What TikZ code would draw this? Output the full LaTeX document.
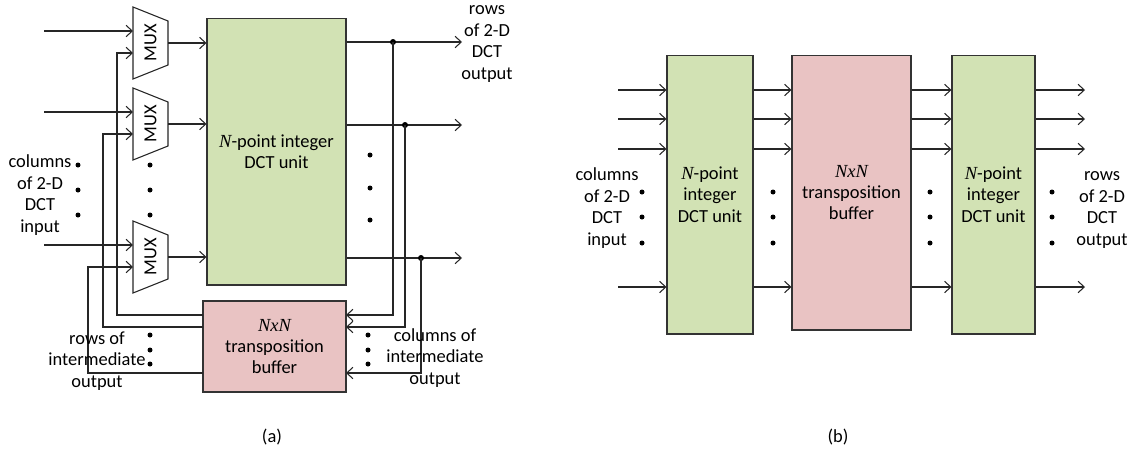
\documentclass[tikz,border=0pt]{standalone}
\usepackage{fontspec}
\setmainfont{Carlito}
\newfontfamily\serifN{Liberation Serif}
\usetikzlibrary{arrows.meta}
\newcommand{\NN}{{\serifN\itshape N}}
\newcommand{\NxN}{{\serifN\itshape NxN}}
\definecolor{dctgreen}{RGB}{210,226,180}
\definecolor{bufpink}{RGB}{233,195,195}
\begin{document}
\begin{tikzpicture}[x=0.02cm,y=-0.02cm,
  every node/.style={font=\fontsize{10.5}{12.2}\selectfont},
  wire/.style={line width=0.6pt, draw=black!85},
  arr/.style={wire,-{Straight Barb[length=3.5pt,width=6.5pt]}},
  dctbox/.style={draw=black!80, line width=0.6pt, fill=dctgreen, inner sep=0pt, align=center},
  bufbox/.style={draw=black!80, line width=0.6pt, fill=bufpink, inner sep=0pt, align=center},
  muxshape/.style={line width=0.6pt, draw=black!85, fill=white},
  lbl/.style={align=center, inner sep=0pt},
  dotr/.style={fill=black}]
\useasboundingbox (0,0) rectangle (1145,460);

% ---------------- (a) ----------------
\node[dctbox, minimum width=2.78cm, minimum height=5.34cm] (dcta) at (276.5,151.5) {\NN-point integer\\DCT unit};
\node[bufbox, minimum width=2.86cm, minimum height=1.82cm] (tbufa) at (274.5,346.5) {\NxN\\transposition\\buffer};

\foreach \c/\n in {43/1,124/2,257/3} {
  \draw[muxshape] (133,\c-36) -- (168,\c-22) -- (168,\c+22) -- (133,\c+36) -- cycle;
  \node[rotate=90, inner sep=0pt] (mux\n) at (150.5,\c) {MUX};
  \coordinate (mux\n inA) at (133,\c-12);
  \coordinate (mux\n inB) at (133,\c+10);
  \coordinate (mux\n out) at (168,\c);
  \coordinate (src\n) at (44,\c-12);
  \draw[arr] (src\n) -- (mux\n inA);
  \draw[arr] (mux\n out) -- (mux\n out -| dcta.west);
}

% outputs of DCT unit with junctions
\coordinate (ja1) at (393,42);
\coordinate (ja2) at (405,125);
\coordinate (ja3) at (421,258);
\coordinate (ea1) at (462,42);
\coordinate (ea2) at (462,125);
\coordinate (ea3) at (462,258);
\foreach \i in {1,2,3} {
  \draw[arr] (dcta.east |- ja\i) -- (ea\i);
  \fill[dotr] (ja\i) circle[radius=3];
}
% feedback into transposition buffer
\coordinate (tin1) at (346,315);
\coordinate (tin2) at (346,327);
\coordinate (tin3) at (346,373);
\foreach \i in {1,2,3} {
  \draw[arr] (ja\i) |- (tin\i);
}
% buffer outputs back to MUXes
\coordinate (tout1) at (203,315);
\coordinate (tout2) at (203,327);
\coordinate (tout3) at (203,373);
\coordinate (fb1) at (117,53);
\coordinate (fb2) at (103,134);
\coordinate (fb3) at (88,267);
\foreach \i in {1,2,3} {
  \draw[arr] (tout\i) -| (fb\i) -- (mux\i inB);
}

% dots
\foreach \y in {165,190,215} {
  \fill[dotr] (78,\y) circle[radius=2.5];
  \fill[dotr] (150,\y) circle[radius=2.5];
}
\foreach \y in {155,188,220} \fill[dotr] (370,\y) circle[radius=2.5];
\foreach \y in {335,350,364} {
  \fill[dotr] (150,\y) circle[radius=2.5];
  \fill[dotr] (368,\y) circle[radius=2.5];
}

% labels
\node[lbl] (lcin) at (40,195) {columns\\of 2-D\\DCT\\input};
\node[lbl] (lrout) at (487,44) {rows\\of 2-D\\DCT\\output};
\node[lbl] (lcint) at (435,358) {columns of\\intermediate\\output};
\node[lbl] (lrint) at (97,361) {rows of\\intermediate\\output};
\node (capa) at (272,437) {(a)};

% ---------------- (b) ----------------
\node[dctbox, minimum width=1.72cm, minimum height=5.58cm] (g1) at (710,194.5) {\NN-point\\integer\\DCT unit};
\node[bufbox, minimum width=2.38cm, minimum height=5.5cm] (tb) at (851.5,192.5) {\NxN\\transposition\\buffer};
\node[dctbox, minimum width=1.66cm, minimum height=5.58cm] (g2) at (993.5,194.5) {\NN-point\\integer\\DCT unit};

\foreach \y/\i in {90/1,119/2,149/3,287/4} {
  \coordinate (bi\i) at (618,\y);
  \coordinate (bo\i) at (1085,\y);
  \draw[arr] (bi\i) -- (bi\i -| g1.west);
  \draw[arr] (bi\i -| g1.east) -- (bi\i -| tb.west);
  \draw[arr] (bi\i -| tb.east) -- (bi\i -| g2.west);
  \draw[arr] (bi\i -| g2.east) -- (bo\i);
}
\foreach \y in {192,217,243} {
  \fill[dotr] (642,\y) circle[radius=2.5];
  \fill[dotr] (773,\y) circle[radius=2.5];
  \fill[dotr] (930,\y) circle[radius=2.5];
  \fill[dotr] (1052,\y) circle[radius=2.5];
}
\node[lbl] (lbin) at (607,208) {columns\\of 2-D\\DCT\\input};
\node[lbl] (lbout) at (1102,210) {rows\\of 2-D\\DCT\\output};
\node (capb) at (838,437) {(b)};
\end{tikzpicture}
\end{document}
